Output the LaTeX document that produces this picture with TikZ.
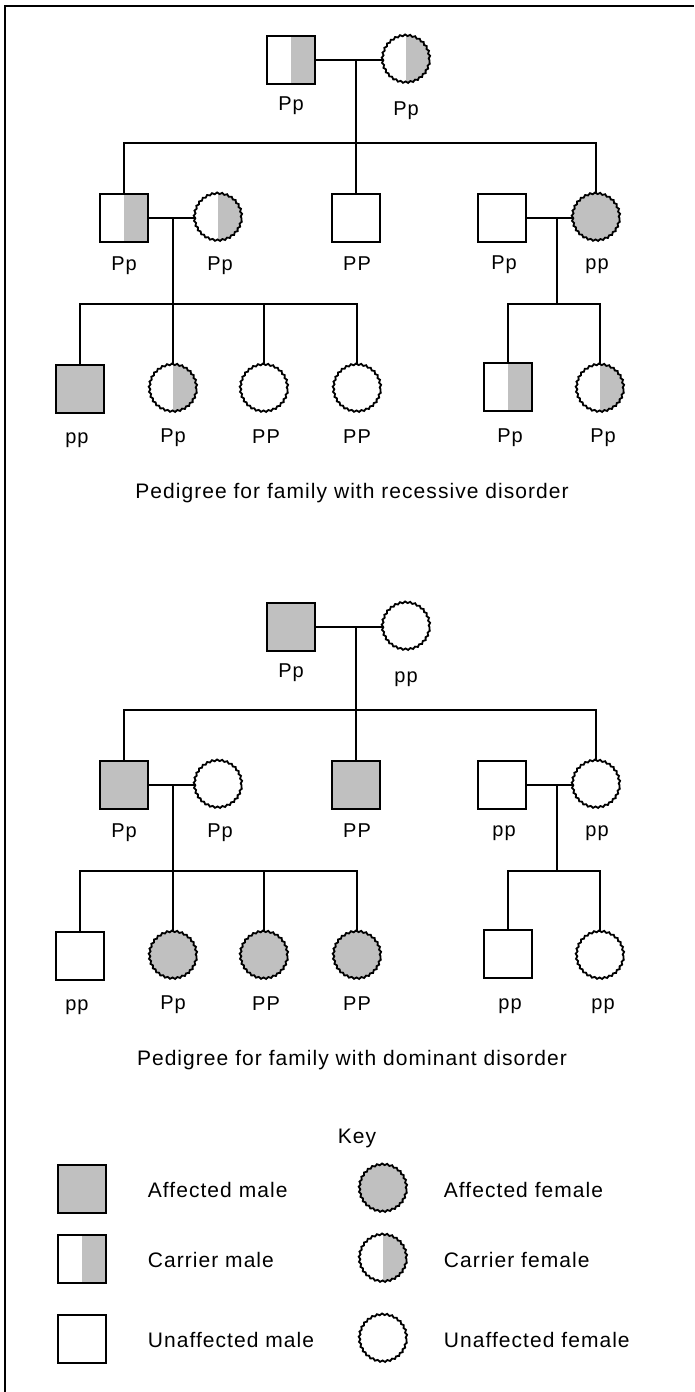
\documentclass[tikz,border=0pt]{standalone}
\usepackage{fontspec}
\setmainfont{Liberation Sans}[LetterSpace=5.0]
\usetikzlibrary{decorations.pathmorphing}
\definecolor{pedgray}{RGB}{192,192,192}

\begin{document}
\begin{tikzpicture}[x=1pt, y=-1pt, line width=1.8pt,
  male/.style={draw, rectangle, minimum size=48pt, inner sep=0pt, fill=white},
  female/.style={draw, circle, minimum size=47pt, inner sep=0pt, fill=white,
    decorate, decoration={snake, segment length=5pt, amplitude=0.8pt}},
  affected/.style={fill=pedgray},
  carrier/.style={path picture={\fill[pedgray] (path picture bounding box.north)
    rectangle (path picture bounding box.south east);}},
  geno/.style={font=\fontsize{20}{24}\selectfont, anchor=base, inner sep=0pt},
  caption/.style={font=\fontsize{21}{25}\selectfont, anchor=base, inner sep=0pt},
  keytext/.style={font=\fontsize{21}{25}\selectfont, anchor=west, inner sep=0pt},
]
\useasboundingbox (0,0) rectangle (694,1392);

% frame along the top and left edges
\draw[line width=2pt] (5,1392) -- (5,6) -- (694,6);

% ---------------- recessive pedigree ----------------
% generation I
\node[male, carrier] (rA1) at (291,60) {};
\node[female, carrier] (rA2) at (406,60) {};
\node[geno] (rA1g) at (291,110) {Pp};
\node[geno] (rA2g) at (406,115) {Pp};
\coordinate (rJ1) at (356,60);
\coordinate (rS1) at (356,143);
\draw (rA1.east) -- (rA2.west);
\draw (rJ1) -- (rS1);

% generation II
\node[male, carrier] (rB1) at (124,218) {};
\node[female, carrier] (rB2) at (218,218) {};
\node[male] (rB3) at (356,218) {};
\node[male] (rB4) at (502,218) {};
\node[female, affected] (rB5) at (596,218) {};
\node[geno] (rB1g) at (124,270) {Pp};
\node[geno] (rB2g) at (220,270) {Pp};
\node[geno] (rB3g) at (357,270) {PP};
\node[geno] (rB4g) at (504,269) {Pp};
\node[geno] (rB5g) at (597,269) {pp};
\draw (rB1.north) |- (rS1) -| (rB5.north);
\draw (rS1) -- (rB3.north);

\coordinate (rJ2) at (173,218);
\coordinate (rS2) at (173,304);
\draw (rB1.east) -- (rB2.west);
\draw (rJ2) -- (rS2);
\coordinate (rJ3) at (557,218);
\coordinate (rS3) at (557,304);
\draw (rB4.east) -- (rB5.west);
\draw (rJ3) -- (rS3);

% generation III
\node[male, affected] (rC1) at (80,389) {};
\node[female, carrier] (rC2) at (173,389) {};
\node[female] (rC3) at (264,389) {};
\node[female] (rC4) at (357,389) {};
\node[male, carrier] (rC5) at (508,387) {};
\node[female, carrier] (rC6) at (600,389) {};
\node[geno] (rC1g) at (77,443) {pp};
\node[geno] (rC2g) at (173,442) {Pp};
\node[geno] (rC3g) at (266,443) {PP};
\node[geno] (rC4g) at (357,443) {PP};
\node[geno] (rC5g) at (510,442) {Pp};
\node[geno] (rC6g) at (603,442) {Pp};
\draw (rC1.north) |- (rS2) -| (rC4.north);
\draw (rS2) -- (rC2.north);
\draw (rC3.north) -- (rC3.north |- rS2);
\draw (rC5.north) |- (rS3) -| (rC6.north);

\node[caption] (rcap) at (352,498) {Pedigree for family with recessive disorder};

% ---------------- dominant pedigree ----------------
\begin{scope}[yshift=-567pt]
% generation I
\node[male, affected] (dA1) at (291,60) {};
\node[female] (dA2) at (406,60) {};
\node[geno] (dA1g) at (291,110) {Pp};
\node[geno] (dA2g) at (406,115) {pp};
\coordinate (dJ1) at (356,60);
\coordinate (dS1) at (356,143);
\draw (dA1.east) -- (dA2.west);
\draw (dJ1) -- (dS1);

% generation II
\node[male, affected] (dB1) at (124,218) {};
\node[female] (dB2) at (218,218) {};
\node[male, affected] (dB3) at (356,218) {};
\node[male] (dB4) at (502,218) {};
\node[female] (dB5) at (596,218) {};
\node[geno] (dB1g) at (124,270) {Pp};
\node[geno] (dB2g) at (220,270) {Pp};
\node[geno] (dB3g) at (357,270) {PP};
\node[geno] (dB4g) at (504,269) {pp};
\node[geno] (dB5g) at (597,269) {pp};
\draw (dB1.north) |- (dS1) -| (dB5.north);
\draw (dS1) -- (dB3.north);

\coordinate (dJ2) at (173,218);
\coordinate (dS2) at (173,304);
\draw (dB1.east) -- (dB2.west);
\draw (dJ2) -- (dS2);
\coordinate (dJ3) at (557,218);
\coordinate (dS3) at (557,304);
\draw (dB4.east) -- (dB5.west);
\draw (dJ3) -- (dS3);

% generation III
\node[male] (dC1) at (80,389) {};
\node[female, affected] (dC2) at (173,389) {};
\node[female, affected] (dC3) at (264,389) {};
\node[female, affected] (dC4) at (357,389) {};
\node[male] (dC5) at (508,387) {};
\node[female] (dC6) at (600,389) {};
\node[geno] (dC1g) at (77,443) {pp};
\node[geno] (dC2g) at (173,442) {Pp};
\node[geno] (dC3g) at (266,443) {PP};
\node[geno] (dC4g) at (357,443) {PP};
\node[geno] (dC5g) at (510,442) {pp};
\node[geno] (dC6g) at (603,442) {pp};
\draw (dC1.north) |- (dS2) -| (dC4.north);
\draw (dS2) -- (dC2.north);
\draw (dC3.north) -- (dC3.north |- dS2);
\draw (dC5.north) |- (dS3) -| (dC6.north);

\node[caption] (dcap) at (352,498) {Pedigree for family with dominant disorder};
\end{scope}

% ---------------- key ----------------
\node[caption] (keyt) at (357,1143) {Key};
\node[male, affected] (k1) at (82,1189) {};
\node[keytext] (k1t) at (147,1190) {Affected male};
\node[female, affected] (k2) at (383,1189) {};
\node[keytext] (k2t) at (443,1190) {Affected female};
\node[male, carrier] (k3) at (82,1259) {};
\node[keytext] (k3t) at (147,1260) {Carrier male};
\node[female, carrier] (k4) at (383,1259) {};
\node[keytext] (k4t) at (443,1260) {Carrier female};
\node[male] (k5) at (82,1339) {};
\node[keytext] (k5t) at (147,1340) {Unaffected male};
\node[female] (k6) at (383,1339) {};
\node[keytext] (k6t) at (443,1340) {Unaffected female};
\end{tikzpicture}
\end{document}
